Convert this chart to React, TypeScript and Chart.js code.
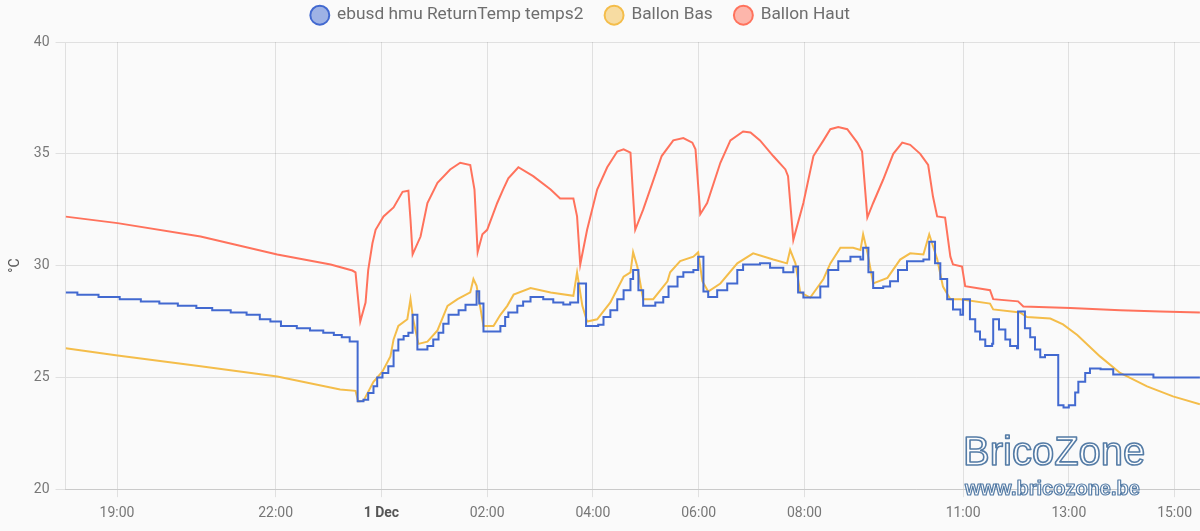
import React, { useEffect, useRef } from "react";
import { Chart, registerables } from "chart.js";

Chart.register(...registerables);

// Hours relative to 1 Dec 00:00
const tickHours = [-5, -2, 0, 2, 4, 6, 8, 11, 13, 15];
const tickLabels = ["19:00", "22:00", "1 Dec", "02:00", "04:00", "06:00", "08:00", "11:00", "13:00", "15:00"];
const xMin = -5.974;
const xMax = 15.48;
const yTicks = [20, 25, 30, 35, 40];

const seriesNames = ["ebusd hmu ReturnTemp temps2", "Ballon Bas", "Ballon Haut"];
const seriesColors = ["#4269d0", "#f4bd4a", "#ff725c"];

const returnTimes = [
  -5.97, -5.75, -5.35, -4.95, -4.55, -4.2, -3.85, -3.5, -3.2, -2.85, -2.55, -2.3, -2.1, -1.9, -1.6, -1.35, -1.1, -0.9, -0.75, -0.6,
  -0.45, -0.34, -0.25, -0.15, -0.08, 0.02, 0.13, 0.23, 0.32, 0.42, 0.51, 0.59, 0.68, 0.87, 0.98, 1.08, 1.17, 1.27, 1.46, 1.59,
  1.8, 1.85, 1.93, 2.25, 2.34, 2.4, 2.57, 2.68, 2.82, 3.06, 3.25, 3.44, 3.57, 3.72, 3.87, 4.1, 4.2, 4.33, 4.46, 4.58,
  4.71, 4.76, 4.86, 4.95, 5.18, 5.33, 5.43, 5.6, 5.71, 5.9, 5.99, 6.09, 6.18, 6.35, 6.54, 6.73, 6.84, 7.16, 7.35, 7.6,
  7.79, 7.88, 7.98, 8.3, 8.45, 8.64, 8.87, 9.06, 9.11, 9.21, 9.3, 9.49, 9.62, 9.77, 9.94, 10.25, 10.36, 10.47, 10.57, 10.7,
  10.81, 10.95, 11.0, 11.13, 11.23, 11.32, 11.42, 11.55, 11.57, 11.68, 11.8, 11.89, 12.02, 12.04, 12.17, 12.27, 12.36, 12.46, 12.55, 12.8,
  12.9, 13.0, 13.12, 13.18, 13.31, 13.4, 13.6, 13.84, 14.6, 15.48,
];
const returnValues = [
  28.8, 28.7, 28.6, 28.5, 28.4, 28.3, 28.2, 28.1, 28.0, 27.9, 27.8, 27.6, 27.5, 27.3, 27.2, 27.1, 27.0, 26.9, 26.8, 26.6,
  23.93, 24.0, 24.3, 24.6, 25.0, 25.2, 25.5, 26.2, 26.7, 26.85, 27.0, 27.8, 26.25, 26.4, 26.7, 27.0, 27.4, 27.8, 28.0, 28.25,
  28.85, 28.3, 27.05, 27.3, 27.7, 27.9, 28.2, 28.4, 28.6, 28.5, 28.35, 28.26, 28.35, 29.2, 27.3, 27.36, 27.7, 28.0, 28.5, 28.9,
  29.4, 29.8, 28.9, 28.2, 28.35, 28.6, 29.06, 29.5, 29.7, 29.8, 30.4, 28.84, 28.6, 28.9, 29.2, 29.8, 30.05, 30.1, 29.9, 29.7,
  29.96, 28.8, 28.57, 29.06, 29.8, 30.2, 30.4, 30.27, 30.8, 29.7, 29.0, 29.06, 29.3, 29.8, 30.2, 30.27, 31.07, 30.1, 29.4, 28.5,
  28.04, 27.8, 28.5, 27.6, 27.05, 26.7, 26.4, 26.5, 27.6, 27.14, 26.7, 26.4, 26.3, 27.95, 27.2, 26.8, 26.25, 25.9, 26.0, 23.75,
  23.65, 23.75, 24.33, 24.8, 25.2, 25.4, 25.36, 25.13, 25.0, 25.0,
];

const basTimes = [
  -5.97, -4.99, -3.42, -1.97, -0.78, -0.49, -0.44, -0.34, -0.15, 0.02, 0.17, 0.23, 0.32, 0.49, 0.55, 0.6, 0.7, 0.87, 1.06, 1.25,
  1.44, 1.68, 1.74, 1.8, 1.93, 2.12, 2.25, 2.38, 2.5, 2.82, 3.2, 3.63, 3.7, 3.8, 3.89, 4.08, 4.33, 4.58, 4.71, 4.76,
  4.84, 4.95, 5.14, 5.41, 5.46, 5.65, 5.9, 5.99, 6.07, 6.18, 6.41, 6.73, 7.03, 7.41, 7.67, 7.73, 7.83, 7.92, 8.11, 8.36,
  8.49, 8.68, 8.92, 9.06, 9.11, 9.19, 9.3, 9.57, 9.81, 10.0, 10.25, 10.36, 10.51, 10.62, 10.76, 10.95, 11.51, 11.57, 12.08, 12.21,
  12.65, 12.89, 13.16, 13.59, 13.97, 14.48, 14.97, 15.48,
];
const basValues = [
  26.3, 25.98, 25.5, 25.04, 24.46, 24.4, 23.93, 23.95, 24.8, 25.27, 25.94, 26.7, 27.3, 27.6, 28.5, 27.6, 26.5, 26.6, 27.1, 28.2,
  28.5, 28.8, 29.4, 29.1, 27.3, 27.3, 27.8, 28.2, 28.7, 29.0, 28.8, 28.65, 29.7, 28.2, 27.5, 27.6, 28.35, 29.5, 29.7, 30.6,
  29.95, 28.5, 28.5, 29.3, 29.7, 30.2, 30.4, 30.6, 29.3, 28.84, 29.2, 30.1, 30.55, 30.27, 30.1, 30.7, 30.1, 28.8, 28.57, 29.4,
  30.1, 30.8, 30.8, 30.7, 31.4, 30.6, 29.2, 29.45, 30.27, 30.55, 30.5, 31.4, 30.3, 29.06, 28.5, 28.5, 28.3, 28.04, 27.9, 27.7,
  27.63, 27.37, 26.9, 25.94, 25.2, 24.6, 24.15, 23.8,
];

const hautTimes = [
  -5.97, -4.99, -3.42, -1.97, -0.96, -0.55, -0.49, -0.4, -0.3, -0.25, -0.17, -0.11, 0.04, 0.23, 0.4, 0.51, 0.55, 0.59, 0.74, 0.87,
  1.06, 1.3, 1.49, 1.68, 1.76, 1.82, 1.91, 2.0, 2.19, 2.3, 2.4, 2.59, 2.87, 3.2, 3.38, 3.63, 3.7, 3.76, 3.89, 4.08,
  4.27, 4.46, 4.58, 4.71, 4.76, 4.8, 4.95, 5.14, 5.3, 5.52, 5.71, 5.88, 5.94, 6.03, 6.16, 6.41, 6.6, 6.84, 6.98, 7.16,
  7.41, 7.64, 7.69, 7.79, 7.98, 8.17, 8.36, 8.49, 8.64, 8.81, 9.0, 9.09, 9.19, 9.3, 9.49, 9.68, 9.85, 10.0, 10.19, 10.34,
  10.43, 10.51, 10.66, 10.76, 10.81, 10.98, 11.04, 11.51, 11.57, 12.04, 12.14, 13.03, 13.97, 14.73, 15.48,
];
const hautValues = [
  32.19, 31.9, 31.3, 30.5, 30.05, 29.78, 29.7, 27.5, 28.35, 29.8, 31.0, 31.6, 32.2, 32.6, 33.3, 33.35, 32.05, 30.5, 31.3, 32.8,
  33.7, 34.3, 34.6, 34.5, 33.4, 30.6, 31.4, 31.6, 32.8, 33.4, 33.9, 34.4, 34.0, 33.4, 33.0, 33.0, 32.2, 30.05, 31.6, 33.4,
  34.4, 35.1, 35.2, 35.05, 33.1, 31.6, 32.5, 33.8, 34.9, 35.6, 35.7, 35.5, 35.2, 32.3, 32.8, 34.6, 35.6, 36.0, 35.95, 35.6,
  34.9, 34.3, 34.0, 31.15, 32.8, 34.9, 35.6, 36.1, 36.2, 36.1, 35.5, 35.1, 32.15, 32.8, 33.85, 35.0, 35.5, 35.4, 35.0, 34.5,
  33.1, 32.2, 32.15, 30.4, 30.05, 29.96, 29.08, 28.9, 28.5, 28.4, 28.17, 28.1, 28.0, 27.95, 27.9,
];

const toPoints = (t: number[], v: number[]) => t.map((x, i) => ({ x, y: v[i] }));

const hexA = (hex: string, a: number) => {
  const n = parseInt(hex.slice(1), 16);
  return `rgba(${(n >> 16) & 255},${(n >> 8) & 255},${n & 255},${a})`;
};

// Adjust legend block height and placement of its row
const legendTweak = {
  id: "legendTweak",
  beforeInit(chart: any) {
    const legend = chart.legend;
    if (!legend) return;
    const origFit = legend.fit;
    legend.fit = function () {
      origFit.call(this);
      this.height -= 7.3;
    };
    const origDraw = legend.draw;
    legend.draw = function (...args: any[]) {
      const ctx = this.ctx;
      ctx.save();
      ctx.translate(-21, -15.5);
      origDraw.apply(this, args);
      ctx.restore();
    };
  },
};

const watermark = {
  id: "watermark",
  afterDraw(chart: any) {
    const ctx = chart.ctx;
    ctx.save();
    ctx.textBaseline = "alphabetic";
    ctx.textAlign = "left";
    ctx.lineJoin = "round";
    ctx.font = "40px 'Liberation Sans', Arial, sans-serif";
    ctx.fillStyle = "rgba(255,255,255,0.75)";
    ctx.strokeStyle = "#557ca6";
    ctx.lineWidth = 1.6;
    ctx.fillText("BricoZone", 963, 465);
    ctx.strokeText("BricoZone", 963, 465);
    ctx.font = "bold 20px 'Liberation Sans', Arial, sans-serif";
    ctx.lineWidth = 1.2;
    ctx.fillText("www.bricozone.be", 965, 495);
    ctx.strokeText("www.bricozone.be", 965, 495);
    ctx.restore();
  },
};

export default function App() {
  const ref = useRef<HTMLCanvasElement>(null);
  useEffect(() => {
    if (!ref.current) return;
    const font = "Roboto, 'Noto Sans', sans-serif";
    const chart = new Chart(ref.current, {
      type: "line",
      data: {
        datasets: [
          {
            label: seriesNames[0],
            data: toPoints(returnTimes, returnValues),
            borderColor: seriesColors[0],
            backgroundColor: hexA(seriesColors[0], 0.5),
            borderWidth: 2,
            pointRadius: 0,
            stepped: "before",
            fill: false,
          },
          {
            label: seriesNames[1],
            data: toPoints(basTimes, basValues),
            borderColor: seriesColors[1],
            backgroundColor: hexA(seriesColors[1], 0.5),
            borderWidth: 2,
            pointRadius: 0,
            tension: 0,
            fill: false,
          },
          {
            label: seriesNames[2],
            data: toPoints(hautTimes, hautValues),
            borderColor: seriesColors[2],
            backgroundColor: hexA(seriesColors[2], 0.5),
            borderWidth: 2,
            pointRadius: 0,
            tension: 0,
            fill: false,
          },
        ],
      },
      options: {
        responsive: false,
        animation: false,
        devicePixelRatio: 1,
        layout: { padding: { left: 3, right: 0, top: 0, bottom: 1 } },
        plugins: {
          legend: {
            position: "top",
            labels: {
              usePointStyle: true,
              pointStyle: "circle",
              boxWidth: 17.3,
              boxHeight: 13.4,
              padding: 22,
              color: "#6e6e6e",
              font: { family: font, size: 17.3 },
            },
          },
          tooltip: { enabled: false },
        },
        scales: {
          x: {
            type: "linear",
            min: xMin,
            max: xMax,
            afterBuildTicks: (scale: any) => {
              scale.ticks = tickHours.map((v) => ({ value: v }));
            },
            ticks: {
              autoSkip: false,
              maxRotation: 0,
              padding: 8,
              color: (c: any) => (c.tick && c.tick.value === 0 ? "#555555" : "#777777"),
              font: (c: any) => ({ family: font, size: 14, weight: c.tick && c.tick.value === 0 ? "bold" : "normal" }),
              callback: (v: any) => {
                const i = tickHours.indexOf(Number(v));
                return i >= 0 ? tickLabels[i] : "";
              },
            },
            grid: { color: "rgba(0,0,0,0.1)", tickLength: 8 },
            border: { color: "rgba(0,0,0,0.1)" },
          },
          y: {
            min: 20,
            max: 40,
            afterBuildTicks: (scale: any) => {
              scale.ticks = yTicks.map((v) => ({ value: v }));
            },
            ticks: { color: "#777777", font: { family: font, size: 14 }, padding: 6 },
            grid: { color: "rgba(0,0,0,0.1)", tickLength: 10 },
            border: { color: "rgba(0,0,0,0.1)" },
            title: { display: true, text: "°C", color: "#555555", font: { family: font, size: 14 } },
          },
        },
      },
      plugins: [legendTweak, watermark],
    } as any);
    return () => chart.destroy();
  }, []);
  return (
    <div style={{ position: "absolute", left: 0, top: 0, width: 1200, height: 531, background: "#fafafa" }}>
      <canvas ref={ref} width={1200} height={531} style={{ display: "block" }} />
    </div>
  );
}
